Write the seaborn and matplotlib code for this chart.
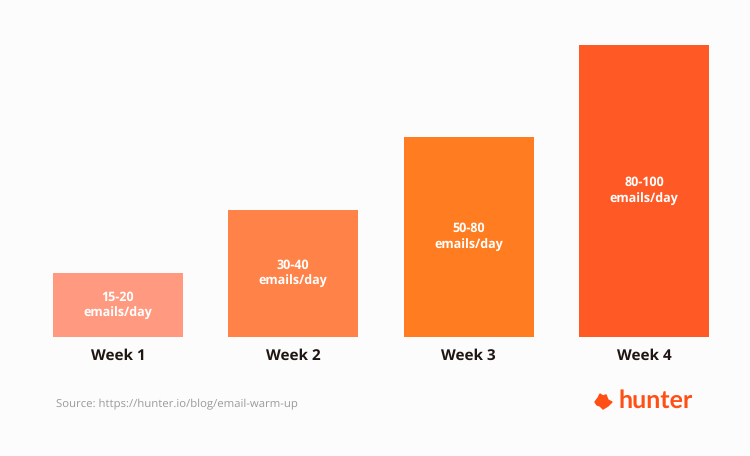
# Import necessary libraries
import pandas as pd
import numpy as np
import matplotlib.pyplot as plt
import seaborn as sns

# Values
weeks = ['Week 1', 'Week 2', 'Week 3', 'Week 4']
heights = [20, 40, 63, 92]
bar_labels = ['15-20\nemails/day', '30-40\nemails/day', '50-80\nemails/day', '80-100\nemails/day']
bar_colors = ['#FF9A80', '#FF8248', '#FF7D20', '#FF5A26']

df = pd.DataFrame({'week': weeks, 'emails': heights})

# Page style
plt.rcParams['font.family'] = ['Open Sans', 'DejaVu Sans']
plt.rcParams['text.hinting'] = 'no_hinting'
bg = '#FBFCFB'

# Bar chart
plt.figure(figsize=(7.5, 4.561), dpi=100, facecolor=bg)
plt.axes([53 / 750, 1 - 337 / 456, 656 / 750, 292 / 456], facecolor=bg)
sns.barplot(data=df, x='week', y='emails', hue='week', palette=bar_colors,
            saturation=1, width=0.741, legend=False)
plt.xlim(-0.37, 3.37)
plt.ylim(0, 92)
plt.xlabel('')
plt.ylabel('')
plt.yticks([])
plt.xticks(fontsize=11, fontweight='bold', color='#1F1512')
plt.tick_params(axis='x', length=0, pad=8)
sns.despine(left=True, bottom=True)

# Labels inside the bars
for i, label in enumerate(bar_labels):
    plt.text(i, heights[i] / 2, label, ha='center', va='center', color='white',
             fontsize=9, fontweight='bold', linespacing=1.35)

# Footer: source and logo
fig = plt.gcf()
fig.text(56 / 750, 1 - 404 / 456, 'Source: https://hunter.io/blog/email-warm-up',
         fontsize=8.2, color='#9A9A9A', va='center')
fig.text(618 / 750, 1 - 401 / 456, 'hunter', fontsize=18, fontweight='bold',
         color='#FF4F14', va='center', family=['Lato', 'DejaVu Sans'])

# Logo head
head_x = np.array([595, 598, 600, 603, 606, 608, 612, 608, 603, 600, 597]) / 750
head_y = 1 - np.array([402, 398, 394, 396, 395, 400, 402, 406, 409, 406, 405]) / 456
fig.add_artist(plt.Polygon(np.column_stack([head_x, head_y]), closed=True,
                           color='#FF4F14', transform=fig.transFigure))

plt.savefig('out.png', dpi=100, facecolor=bg)
